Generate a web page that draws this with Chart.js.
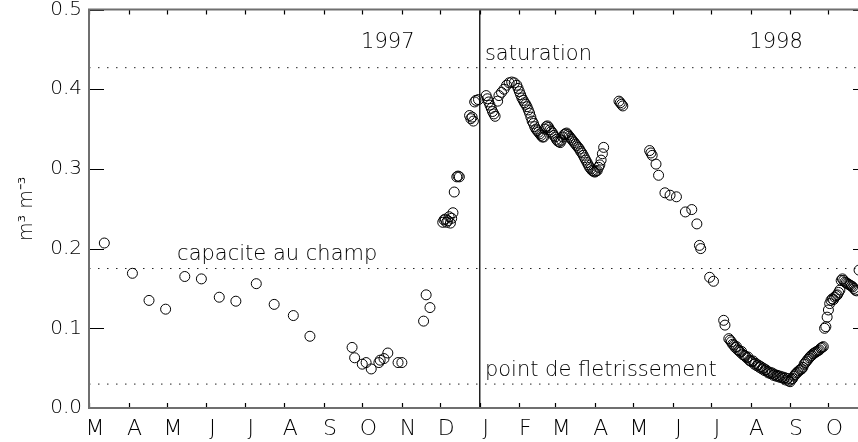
<!DOCTYPE html>
<html>
<head>
<meta charset="utf-8">
<script src="https://cdn.jsdelivr.net/npm/chart.js@4/dist/chart.umd.min.js"></script>
<style>
  html, body { margin: 0; padding: 0; background: #fff; overflow: hidden; }
  #wrap { width: 858px; height: 442px; overflow: hidden; }
</style>
</head>
<body>
<div id="wrap"><canvas id="myChart" width="880" height="442"></canvas></div>
<script>
// days counted from 1 March 1997
const monthDays = [0, 31, 61, 92, 122, 153, 184, 214, 245, 275, 306, 337, 365, 396, 426, 457, 487, 518, 549, 579];
const monthLabels = ['M','A','M','J','J','A','S','O','N','D','J','F','M','A','M','J','J','A','S','O'];
const yTicks = ['0.0','0.1','0.2','0.3','0.4','0.5'];

// soil moisture, m3 m-3
const days = [
  12, 34, 47, 60, 75, 88, 102, 115, 131, 145, 160, 173,
  206, 208, 214, 217, 221, 227, 228, 231, 234, 242, 245,
  262, 264, 267,
  277, 278, 279, 280, 281, 282, 283, 284, 285, 286, 288, 289, 290,
  298, 299, 300, 301, 302, 303, 305,
  311, 312, 313, 314, 315, 316, 317, 318, 320, 321, 323, 325, 327, 329, 331, 333, 335, 336, 337, 338, 339, 340,
  341, 342, 343, 344, 345, 346, 347, 348, 349, 350, 351, 352, 353, 354, 355, 356, 357, 358, 359, 360,
  361, 362, 363, 364, 365, 366, 367, 368, 369, 370, 371, 372, 373, 374, 375, 376, 377, 378, 379, 380,
  381, 382, 383, 384, 385, 386, 387, 388, 389, 390, 391, 392, 393, 394, 395, 396, 397, 398, 399, 400,
  401, 402, 403,
  415, 416, 417, 418,
  439, 440, 441, 444, 446, 451, 455, 460, 467, 472, 476, 478, 479, 486, 489, 497, 498,
  501, 502, 503, 504, 505, 506, 507, 508, 509, 510, 511, 512, 513, 514, 515, 516, 517, 518, 519, 520,
  521, 522, 523, 524, 525, 526, 527, 528, 529, 530, 531, 532, 533, 534, 535, 536, 537, 538, 539, 540,
  541, 542, 543, 544, 545, 546, 547, 548, 549, 550, 551, 552, 553, 554, 555, 556, 557, 558, 559, 560,
  561, 562, 563, 564, 565, 566, 567, 568, 569, 570, 571, 572, 573, 574, 575, 576, 577, 578, 579, 580,
  581, 582, 583, 584, 585, 586, 587, 588, 589, 590, 591, 592, 593, 594, 595, 596, 597, 598, 599, 600,
  601, 603
];
const theta = [
  0.207, 0.169, 0.135, 0.124, 0.165, 0.162, 0.139, 0.134, 0.156, 0.130, 0.116, 0.090,
  0.076, 0.063, 0.055, 0.057, 0.049, 0.057, 0.060, 0.062, 0.069, 0.057, 0.057,
  0.109, 0.142, 0.126,
  0.233, 0.236, 0.237, 0.233, 0.235, 0.240, 0.232, 0.238, 0.245, 0.271, 0.290, 0.291, 0.290,
  0.367, 0.363, 0.365, 0.360, 0.384, 0.386, 0.387,
  0.392, 0.388, 0.384, 0.380, 0.376, 0.372, 0.369, 0.366, 0.385, 0.392, 0.396, 0.400, 0.405, 0.408, 0.409, 0.408, 0.405, 0.401, 0.397, 0.393, 0.389, 0.386,
  0.383, 0.381, 0.378, 0.374, 0.370, 0.365, 0.360, 0.357, 0.353, 0.350, 0.348, 0.346, 0.344, 0.342, 0.340, 0.340, 0.350, 0.353, 0.354, 0.352,
  0.349, 0.347, 0.345, 0.342, 0.340, 0.337, 0.335, 0.334, 0.333, 0.336, 0.340, 0.343, 0.344, 0.345, 0.343, 0.341, 0.339, 0.337, 0.335, 0.333,
  0.331, 0.329, 0.327, 0.325, 0.322, 0.320, 0.317, 0.314, 0.311, 0.308, 0.305, 0.302, 0.300, 0.298, 0.297, 0.296, 0.297, 0.298, 0.302, 0.305,
  0.311, 0.319, 0.327,
  0.385, 0.383, 0.381, 0.379,
  0.323, 0.320, 0.317, 0.306, 0.292, 0.270, 0.267, 0.265, 0.246, 0.249, 0.231, 0.204, 0.200, 0.164, 0.159, 0.110, 0.104,
  0.087, 0.085, 0.083, 0.080, 0.079, 0.076, 0.077, 0.073, 0.072, 0.070, 0.071, 0.067, 0.066, 0.065, 0.063, 0.064, 0.060, 0.059, 0.058, 0.059,
  0.055, 0.056, 0.053, 0.054, 0.051, 0.052, 0.049, 0.050, 0.047, 0.048, 0.046, 0.044, 0.045, 0.043, 0.044, 0.041, 0.042, 0.040, 0.041, 0.039,
  0.040, 0.038, 0.039, 0.037, 0.038, 0.035, 0.037, 0.034, 0.033, 0.036, 0.037, 0.040, 0.042, 0.044, 0.045, 0.047, 0.048, 0.049, 0.051, 0.055,
  0.057, 0.059, 0.061, 0.063, 0.065, 0.066, 0.068, 0.069, 0.070, 0.071, 0.072, 0.073, 0.075, 0.076, 0.077, 0.100, 0.102, 0.114, 0.123, 0.131,
  0.135, 0.137, 0.136, 0.139, 0.141, 0.142, 0.145, 0.148, 0.160, 0.162, 0.160, 0.158, 0.157, 0.156, 0.155, 0.154, 0.153, 0.152, 0.150, 0.148,
  0.147, 0.173
];

// reference levels
const refLevels = [0.427, 0.175, 0.03];
const refNames = ['saturation', 'capacite au champ', 'point de fletrissement'];
const refLabelAt = [[310, 0.444], [69, 0.192], [310, 0.047]];
const yearDay = 306;
const yearLabels = [['1997', 234, 0.458], ['1998', 538, 0.458]];
const xMax = 610;

const FONT = "'DejaVu Sans', sans-serif";

const points = days.map((d, i) => ({ x: d, y: theta[i] }));

const refSets = refLevels.map(v => ({
  type: 'line',
  data: [{ x: 0, y: v }, { x: xMax, y: v }],
  borderColor: '#222',
  borderWidth: 1,
  borderDash: [1.5, 7.5],
  pointRadius: 0,
  fill: false
}));

// frame + inward ticks + labels on the plot
const framePlugin = {
  id: 'frame',
  afterDatasetsDraw(chart) {
    const { ctx, chartArea: a, scales: { x, y } } = chart;
    ctx.save();
    ctx.strokeStyle = '#000';
    ctx.lineWidth = 1.2;
    yTicks.forEach(t => {
      const py = Math.round(y.getPixelForValue(parseFloat(t))) + 0.5;
      ctx.beginPath();
      ctx.moveTo(a.left, py); ctx.lineTo(a.left + 15, py);
      ctx.moveTo(a.right, py); ctx.lineTo(a.right - 15, py);
      ctx.stroke();
    });
    monthDays.forEach(d => {
      const px = Math.round(x.getPixelForValue(d)) + 0.5;
      ctx.beginPath();
      ctx.moveTo(px, a.bottom); ctx.lineTo(px, a.bottom - 5);
      ctx.moveTo(px, a.top); ctx.lineTo(px, a.top + 5);
      ctx.stroke();
    });
    ctx.strokeStyle = '#6f6f6f';
    ctx.lineWidth = 2;
    ctx.strokeRect(a.left, a.top, a.right - a.left, a.bottom - a.top);

    ctx.fillStyle = '#000';
    ctx.font = '200 21px ' + FONT;
    ctx.textBaseline = 'middle';
    ctx.textAlign = 'left';
    refNames.forEach((n, i) => {
      ctx.fillText(n, x.getPixelForValue(refLabelAt[i][0]), y.getPixelForValue(refLabelAt[i][1]));
    });
    ctx.textAlign = 'center';
    yearLabels.forEach(l => {
      ctx.fillText(l[0], x.getPixelForValue(l[1]), y.getPixelForValue(l[2]));
    });
    ctx.restore();
  }
};

var ctx = document.getElementById('myChart').getContext('2d');
var chart = new Chart(ctx, {
  type: 'scatter',
  data: {
    datasets: [
      {
        data: points,
        pointStyle: 'circle',
        pointRadius: 5,
        pointBorderWidth: 1,
        pointBorderColor: '#000',
        pointBackgroundColor: 'rgba(0,0,0,0)',
        showLine: false
      },
      ...refSets,
      {
        type: 'line',
        data: [{ x: yearDay, y: 0 }, { x: yearDay, y: 0.5 }],
        borderColor: '#000',
        borderWidth: 1.3,
        pointRadius: 0,
        fill: false
      }
    ]
  },
  options: {
    responsive: false,
    animation: false,
    layout: { padding: { top: 9.5, right: 12, left: 0, bottom: 0 } },
    plugins: { legend: { display: false }, tooltip: { enabled: false } },
    scales: {
      x: {
        type: 'linear',
        min: 0,
        max: xMax,
        grid: { display: false, drawTicks: false },
        border: { display: false },
        afterBuildTicks: (s) => { s.ticks = monthDays.map(v => ({ value: v })); },
        afterFit: (s) => { s.height = 34; s.paddingLeft = 0; s.paddingRight = 0; },
        ticks: {
          autoSkip: false,
          maxRotation: 0,
          padding: 8,
          labelOffset: 6,
          color: '#000',
          font: { family: FONT, size: 22, weight: '200' },
          callback: (v, i) => monthLabels[i]
        }
      },
      y: {
        min: 0,
        max: 0.5,
        grid: { display: false, drawTicks: false },
        border: { display: false },
        afterBuildTicks: (s) => { s.ticks = yTicks.map(t => ({ value: parseFloat(t) })); },
        afterFit: (s) => { s.width = 89; s.paddingTop = 0; s.paddingBottom = 0; },
        title: {
          display: true,
          text: 'm³ m⁻³',
          color: '#000',
          font: { family: FONT, size: 19, weight: '200' },
          padding: { top: 16, bottom: 0 }
        },
        ticks: {
          padding: 7,
          color: '#000',
          font: { family: FONT, size: 20, weight: '200' },
          callback: (v, i) => yTicks[i]
        }
      }
    }
  },
  plugins: [framePlugin]
});
</script>
</body>
</html>
